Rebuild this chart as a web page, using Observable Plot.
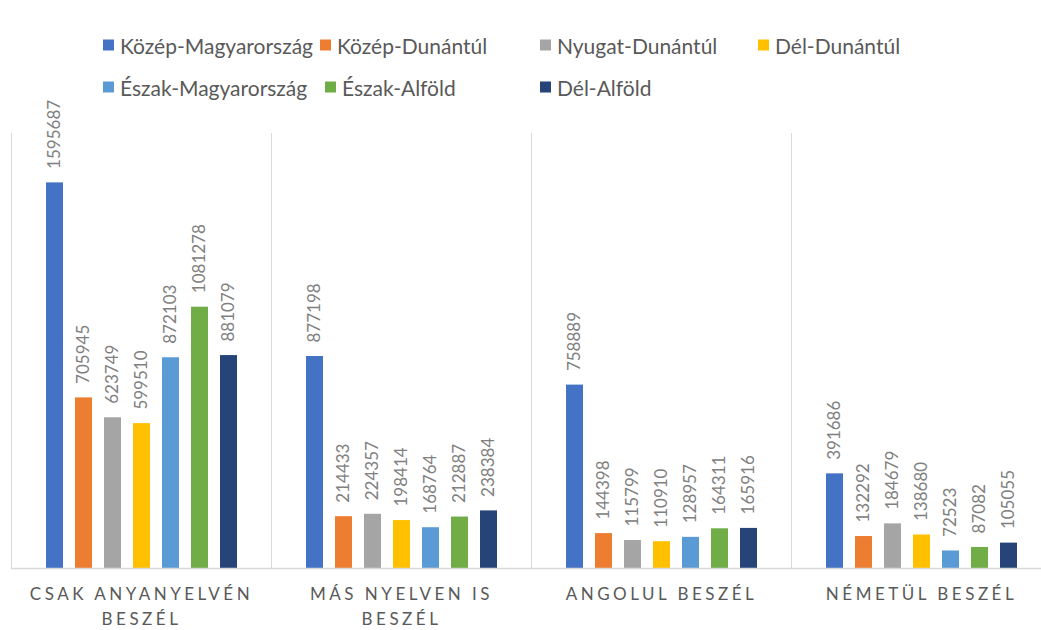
<!DOCTYPE html>
<html>
<head>
<meta charset="utf-8">
<script src="https://cdn.jsdelivr.net/npm/d3@7"></script>
<script src="https://cdn.jsdelivr.net/npm/@observablehq/plot@0.6"></script>
<style>
  html, body { margin: 0; padding: 0; background: #fff; }
  body { width: 1041px; height: 630px; overflow: hidden; position: relative; font-family: Lato, "Noto Sans", sans-serif; }
  #legend { position: relative; height: 100px; }
  .item { position: absolute; display: flex; align-items: center; color: #595959; font-size: 21px; white-space: nowrap; transform: translateY(-50%); }
  .sw { width: 11px; height: 11px; margin-right: 6px; }
  #chart svg [aria-label="fx-axis tick label"] text { letter-spacing: 3.5px; }
</style>
</head>
<body>
<div id="legend"></div>
<div id="chart"></div>
<script>
const series = ["Közép-Magyarország", "Közép-Dunántúl", "Nyugat-Dunántúl", "Dél-Dunántúl", "Észak-Magyarország", "Észak-Alföld", "Dél-Alföld"];
const colors = ["#4472C4", "#ED7D31", "#A5A5A5", "#FFC000", "#5B9BD5", "#70AD47", "#264478"];
const categories = ["CSAK ANYANYELVÉN BESZÉL", "MÁS NYELVEN IS BESZÉL", "ANGOLUL BESZÉL", "NÉMETÜL BESZÉL"];
const categoryLabels = ["CSAK ANYANYELVÉN\nBESZÉL", "MÁS NYELVEN IS\nBESZÉL", "ANGOLUL BESZÉL", "NÉMETÜL BESZÉL"];
const csakAnyanyelven = [1595687, 705945, 623749, 599510, 872103, 1081278, 881079];
const masNyelvenIs = [877198, 214433, 224357, 198414, 168764, 212887, 238384];
const angolul = [758889, 144398, 115799, 110910, 128957, 164311, 165916];
const nemetul = [391686, 132292, 184679, 138680, 72523, 87082, 105055];

const valuesByCategory = [csakAnyanyelven, masNyelvenIs, angolul, nemetul];
const data = categories.flatMap((c, ci) => series.map((s, si) => ({category: c, series: s, value: valuesByCategory[ci][si]})));

// Legend (HTML, above the SVG)
const legendCols = [[103, 320, 540, 758], [103, 325, 540]];
const legendRows = [45, 87];
const legend = document.getElementById("legend");
series.forEach((s, i) => {
  const row = i < 4 ? 0 : 1;
  const col = i < 4 ? i : i - 4;
  const el = document.createElement("div");
  el.className = "item";
  el.style.left = legendCols[row][col] + "px";
  el.style.top = legendRows[row] + "px";
  el.innerHTML = `<span class="sw" style="background:${colors[i]}"></span><span>${s}</span>`;
  legend.appendChild(el);
});

const plot = Plot.plot({
  width: 1051,
  height: 530,
  marginTop: 33,
  marginBottom: 62,
  marginLeft: 11,
  marginRight: 0,
  style: {background: "transparent", overflow: "visible", maxWidth: "none", fontFamily: "Lato, 'Noto Sans', sans-serif"},
  facet: {marginTop: 0, marginBottom: 0, marginLeft: 0, marginRight: 0},
  fx: {domain: categories, padding: 0, label: null},
  x: {domain: series, paddingInner: 0.42, paddingOuter: 1.115, axis: null},
  y: {domain: [0, 1800000], axis: null},
  color: {domain: series, range: colors},
  marks: [
    Plot.frame({anchor: "left", stroke: "#d9d9d9"}),
    Plot.barY(data, {fx: "category", x: "series", y: "value", fill: "series"}),
    Plot.ruleY([0], {stroke: "#d9d9d9", strokeWidth: 1.3}),
    Plot.text(data, {fx: "category", x: "series", y: "value", text: d => String(d.value), rotate: -90, textAnchor: "start", dy: -14, fill: "#808080", fontSize: 17}),
    Plot.axisFx({anchor: "bottom", tickSize: 0, tickPadding: 13, fontSize: 17, lineHeight: 1.5, fill: "#595959", label: null,
      tickFormat: d => categoryLabels[categories.indexOf(d)]})
  ]
});
plot.style.maxWidth = "none";
document.getElementById("chart").appendChild(plot);
</script>
</body>
</html>
